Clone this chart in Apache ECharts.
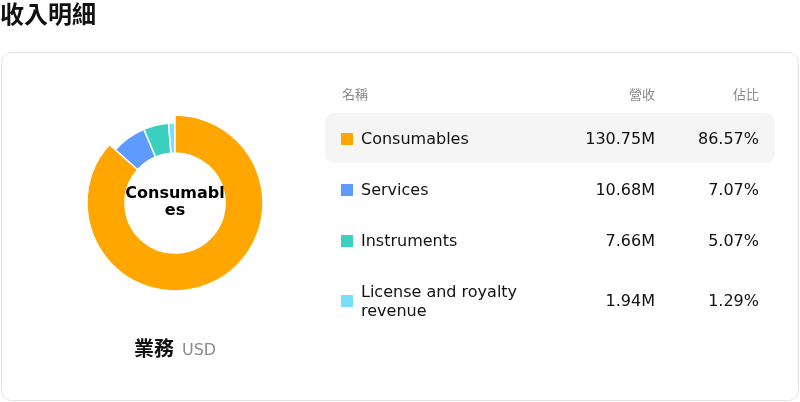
<!DOCTYPE html>
<html>
<head>
<meta charset="utf-8">
<script src="https://cdn.jsdelivr.net/npm/echarts@6/dist/echarts.min.js"></script>
<style>
html,body{margin:0;padding:0;background:#fff;}
#c{width:800px;height:402px;}
</style>
</head>
<body>
<div id="c"></div>
<script>
var titleText = '收入明細';
var categories = ['Consumables', 'Services', 'Instruments', 'License and royalty revenue'];
var revenueM = [130.75, 10.68, 7.66, 1.94];
var shares = [86.57, 7.07, 5.07, 1.29];
var colors = ['#FFA600', '#5E9BFF', '#3BCFBF', '#78DEFF'];
var headers = ['名稱', '營收', '佔比'];
var footLabel = '業務';
var footUnit = 'USD';

var FONT = '"DejaVu Sans", "Noto Sans CJK TC", sans-serif';
var chart = echarts.init(document.getElementById('c'), null, {renderer: 'canvas'});

var rowY = [139, 190, 241, 301];
var graphics = [];
graphics.push({type: 'rect', z: -10, shape: {x: 1.5, y: 52.5, width: 797, height: 348, r: 10},
  style: {fill: '#fff', stroke: '#e3e2ec', lineWidth: 1}});
graphics.push({type: 'text', x: 0, y: 17, style: {text: titleText, fill: '#111', font: 'bold 24px ' + FONT, align: 'left', verticalAlign: 'middle'}});
graphics.push({type: 'text', x: 342, y: 96, style: {text: headers[0], fill: '#8a8a8a', font: '13px ' + FONT, align: 'left', verticalAlign: 'middle'}});
graphics.push({type: 'text', x: 655, y: 96, style: {text: headers[1], fill: '#8a8a8a', font: '13px ' + FONT, align: 'right', verticalAlign: 'middle'}});
graphics.push({type: 'text', x: 759, y: 96, style: {text: headers[2], fill: '#8a8a8a', font: '13px ' + FONT, align: 'right', verticalAlign: 'middle'}});
graphics.push({type: 'rect', z: -5, shape: {x: 325, y: 113, width: 450, height: 50, r: 10}, style: {fill: '#f5f5f5'}});
categories.forEach(function (name, i) {
  var y = rowY[i];
  graphics.push({type: 'rect', shape: {x: 341, y: y - 6, width: 12, height: 12}, style: {fill: colors[i]}});
  graphics.push({type: 'text', x: 361, y: y + 1, style: {text: name, fill: '#111', font: '16px ' + FONT, width: 175, overflow: 'break', lineHeight: 19, align: 'left', verticalAlign: 'middle'}});
  graphics.push({type: 'text', x: 655, y: y + 1, style: {text: revenueM[i].toFixed(2) + 'M', fill: '#111', font: '16px ' + FONT, align: 'right', verticalAlign: 'middle'}});
  graphics.push({type: 'text', x: 759, y: y + 1, style: {text: shares[i].toFixed(2) + '%', fill: '#111', font: '16px ' + FONT, align: 'right', verticalAlign: 'middle'}});
});
graphics.push({type: 'text', x: 174, y: 351, style: {text: footLabel, fill: '#111', font: 'bold 20px ' + FONT, align: 'right', verticalAlign: 'middle'}});
graphics.push({type: 'text', x: 182, y: 351, style: {text: footUnit, fill: '#8a8a8a', font: '16px ' + FONT, align: 'left', verticalAlign: 'middle'}});
graphics.push({type: 'text', x: 175, y: 202, z: 10, style: {text: categories[0], fill: '#000', font: 'bold 16px ' + FONT, width: 102, overflow: 'breakAll', lineHeight: 17, align: 'center', verticalAlign: 'middle'}});

var option = {
  animation: false,
  graphic: graphics,
  series: [{
    type: 'pie',
    animation: false,
    center: [175, 203],
    radius: [50, 80],
    startAngle: 90,
    clockwise: true,
    avoidLabelOverlap: false,
    itemStyle: {borderColor: '#fff', borderWidth: 1.5},
    label: {show: false},
    labelLine: {show: false},
    emphasis: {scale: true, scaleSize: 8, label: {show: false}},
    data: categories.map(function (n, i) {
      return {name: n, value: revenueM[i], itemStyle: {color: colors[i]},
        emphasis: {itemStyle: {color: colors[i]}}};
    })
  }]
};
chart.setOption(option);
chart.dispatchAction({type: 'highlight', seriesIndex: 0, dataIndex: 0});
</script>
</body>
</html>
